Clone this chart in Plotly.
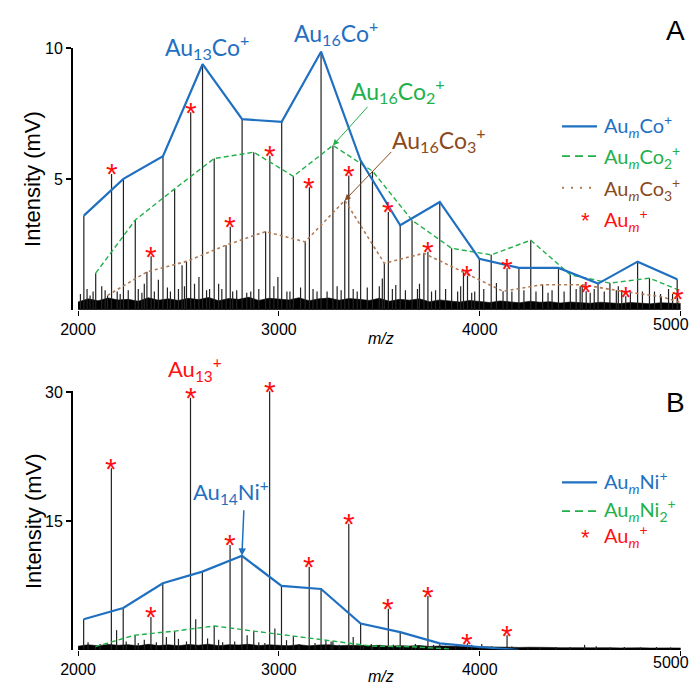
import plotly.graph_objects as go

# ---------------- Panel A (Au-Co) ----------------
co1_mz = [2029, 2226, 2423, 2620, 2817, 3014, 3210, 3407, 3604, 3801, 3998, 4195, 4392, 4589, 4786, 4983]
co1_int = [3.6, 5.0, 5.87, 9.38, 7.28, 7.18, 9.86, 5.7, 3.23, 4.12, 1.95, 1.6, 1.6, 1.0, 1.84, 1.17]
co2_mz = [2088, 2285, 2481, 2678, 2875, 3072, 3269, 3466, 3663, 3860, 4057, 4254, 4451, 4648, 4845, 5042]
co2_int = [1.4, 3.43, 4.62, 5.78, 6.02, 5.1, 6.28, 5.3, 3.42, 2.35, 2.1, 2.66, 1.34, 1.02, 1.21, 0.6]
co3_mz = [2147, 2343, 2540, 2737, 2934, 3131, 3328, 3525, 3722, 3919, 4116, 4313, 4510, 4707, 4904, 5101]
co3_int = [0.55, 1.45, 1.85, 2.47, 2.99, 2.6, 4.18, 1.78, 2.16, 1.45, 0.71, 0.96, 0.96, 0.71, 0.5, 0.05]
auA_mz = [2167, 2364, 2561, 2758, 2955, 3152, 3348, 3545, 3742, 3939, 4136, 4530, 4727, 4985]
auA_int = [5.19, 2.05, 7.55, 3.17, 5.88, 4.68, 5.13, 3.74, 2.22, 1.3, 1.59, 0.71, 0.52, 0.45]
otherA_mz = [2012, 2045, 2060, 2075, 2118, 2135, 2195, 2210, 2250, 2300, 2318, 2330, 2380, 2400,
             2445, 2460, 2500, 2518, 2530, 2580, 2602, 2640, 2655, 2700, 2716, 2770, 2790, 2840,
             2860, 2900, 2975, 2995, 3040, 3055, 3108, 3170, 3190, 3240, 3290, 3310, 3370, 3390,
             3440, 3500, 3515, 3565, 3582, 3630, 3690, 3700, 3760, 3780, 3830, 3890, 3905, 3960,
             3975, 4020, 4083, 4160, 4220, 4280, 4340, 4360, 4420, 4480, 4500, 4550, 4570, 4620,
             4680, 4690, 4750, 4810, 4870, 4900, 4940, 4960]
otherA_int = [0.6, 0.8, 0.55, 0.7, 0.9, 0.75, 0.7, 0.6, 0.75, 0.8, 0.65, 1.0, 0.7, 1.15,
              0.85, 0.7, 0.8, 1.7, 0.9, 1.0, 1.25, 0.75, 0.8, 1.0, 0.8, 0.7, 0.75, 0.65,
              0.7, 0.8, 0.9, 1.25, 0.7, 0.7, 0.85, 0.8, 0.7, 0.7, 0.9, 0.75, 0.8, 0.7,
              0.85, 0.9, 1.2, 0.8, 0.95, 0.75, 0.8, 1.0, 0.7, 0.75, 0.8, 0.7, 0.9, 0.65,
              0.7, 0.8, 1.02, 0.7, 0.75, 0.7, 0.65, 0.75, 0.7, 0.8, 0.9, 0.65, 0.8, 0.7,
              0.75, 0.9, 0.65, 0.7, 0.7, 0.6, 0.8, 0.6]
noiseA_mz = list(range(2000, 5001, 50))
noiseA = [0.30, 0.42, 0.35, 0.45, 0.38, 0.40, 0.33, 0.46, 0.37, 0.42,
          0.36, 0.44, 0.39, 0.47, 0.35, 0.43, 0.40, 0.48, 0.36, 0.44,
          0.41, 0.38, 0.46, 0.35, 0.42, 0.45, 0.37, 0.43, 0.40, 0.36,
          0.44, 0.33, 0.40, 0.37, 0.42, 0.31, 0.38, 0.35, 0.30, 0.36,
          0.32, 0.28, 0.34, 0.30, 0.27, 0.33, 0.29, 0.31, 0.26, 0.30,
          0.28, 0.25, 0.29, 0.27, 0.24, 0.28, 0.26, 0.23, 0.27, 0.25, 0.24]

# ---------------- Panel B (Au-Ni) ----------------
ni1_mz = [2028, 2225, 2422, 2619, 2816, 3013, 3210, 3407, 3604, 3801, 3998, 4195]
ni1_int = [3.58, 4.89, 7.77, 9.12, 10.96, 7.45, 7.1, 3.08, 2.08, 0.78, 0.35, 0.0]
ni2_mz = [2087, 2284, 2481, 2678, 2875, 3072, 3269, 3466, 3663, 3860]
ni2_int = [0.4, 1.73, 2.2, 2.8, 2.2, 1.6, 1.0, 0.45, 0.38, 0.1]
auB_mz = [2166, 2363, 2560, 2757, 2954, 3151, 3348, 3545, 3742, 3939, 4136]
auB_int = [21.15, 3.85, 29.35, 12.23, 30.1, 9.69, 14.69, 4.81, 6.27, 0.77, 1.73]
otherB_mz = [2050, 2110, 2192, 2240, 2300, 2330, 2390, 2440, 2500, 2540, 2586, 2645, 2700, 2720,
             2780, 2842, 2900, 2930, 2980, 3038, 3100, 3180, 3234, 3260, 3300, 3370, 3420, 3460,
             3500, 3570, 3620, 3680, 3700, 3770, 3830, 3880, 3960, 4010, 4060, 4160, 4240, 4300,
             4380, 4450, 4522, 4580, 4650, 4720, 4800, 4880, 4950]
otherB_int = [0.9, 0.7, 2.31, 1.0, 0.8, 1.2, 0.9, 1.5, 1.3, 1.0, 3.58, 1.35, 1.2, 0.9,
              1.0, 1.73, 0.9, 0.8, 2.5, 1.15, 0.7, 0.8, 1.15, 1.0, 0.6, 1.5, 0.6, 0.7,
              0.5, 0.6, 0.5, 0.7, 0.5, 0.6, 0.5, 0.5, 0.6, 0.7, 0.45, 0.4, 0.35, 0.3,
              0.35, 0.35, 0.6, 0.45, 0.3, 0.35, 0.3, 0.35, 0.3]
noiseB_mz = list(range(2000, 5001, 50))
noiseB = [0.45, 0.60, 0.50, 0.65, 0.55, 0.62, 0.48, 0.66, 0.52, 0.60,
          0.50, 0.64, 0.56, 0.68, 0.50, 0.62, 0.58, 0.66, 0.52, 0.60,
          0.55, 0.50, 0.62, 0.48, 0.58, 0.60, 0.50, 0.56, 0.52, 0.48,
          0.55, 0.45, 0.50, 0.46, 0.52, 0.42, 0.46, 0.44, 0.40, 0.42,
          0.38, 0.30, 0.34, 0.28, 0.30, 0.32, 0.27, 0.30, 0.26, 0.29,
          0.27, 0.25, 0.28, 0.26, 0.24, 0.27, 0.25, 0.23, 0.26, 0.24, 0.23]

x_ticks = [2000, 3000, 4000, 5000]
x_ticktext = ['2000', '3000', '4000', '5000']
yA_ticks = [5, 10]
yB_ticks = [15, 30]

BLUE = '#1f70c1'
GREEN = '#22b04b'
BROWN = '#8a4a1d'
BROWN_LINE = '#b07a55'
RED = '#ff1010'
STICK = '#222222'
LABEL_FONT = 'Lato, Carlito, Calibri, sans-serif'
AX_FONT = 'Liberation Sans, Arial, sans-serif'


def stick_xy(mz_lists, int_lists):
    xs, ys = [], []
    for mzs, ins in zip(mz_lists, int_lists):
        for m, v in zip(mzs, ins):
            xs += [m, m, None]
            ys += [0, v, None]
    return xs, ys


fig = go.Figure()

# ---- panel A traces ----
fig.add_trace(go.Scatter(x=noiseA_mz, y=noiseA, mode='lines', fill='tozeroy',
                         fillcolor='black', line=dict(color='black', width=0.6),
                         xaxis='x', yaxis='y', hoverinfo='skip'))
sx, sy = stick_xy([otherA_mz, co3_mz, co2_mz, co1_mz, auA_mz], [otherA_int, co3_int, co2_int, co1_int, auA_int])
fig.add_trace(go.Scatter(x=sx, y=sy, mode='lines', line=dict(color=STICK, width=1.2),
                         xaxis='x', yaxis='y', hoverinfo='skip'))
fig.add_trace(go.Scatter(x=co3_mz, y=co3_int, mode='lines', line=dict(color=BROWN_LINE, width=1.6, dash='dot'),
                         xaxis='x', yaxis='y'))
fig.add_trace(go.Scatter(x=co2_mz, y=co2_int, mode='lines', line=dict(color=GREEN, width=1.4, dash='5px,3px'),
                         xaxis='x', yaxis='y'))
fig.add_trace(go.Scatter(x=co1_mz, y=co1_int, mode='lines', line=dict(color=BLUE, width=2.2),
                         xaxis='x', yaxis='y'))

# ---- panel B traces ----
fig.add_trace(go.Scatter(x=noiseB_mz, y=noiseB, mode='lines', fill='tozeroy',
                         fillcolor='black', line=dict(color='black', width=0.6),
                         xaxis='x2', yaxis='y2', hoverinfo='skip'))
sx, sy = stick_xy([otherB_mz, ni2_mz, ni1_mz, auB_mz], [otherB_int, ni2_int, ni1_int, auB_int])
fig.add_trace(go.Scatter(x=sx, y=sy, mode='lines', line=dict(color=STICK, width=1.2),
                         xaxis='x2', yaxis='y2', hoverinfo='skip'))
fig.add_trace(go.Scatter(x=ni2_mz, y=ni2_int, mode='lines', line=dict(color=GREEN, width=1.4, dash='5px,3px'),
                         xaxis='x2', yaxis='y2'))
fig.add_trace(go.Scatter(x=ni1_mz, y=ni1_int, mode='lines', line=dict(color=BLUE, width=2.2),
                         xaxis='x2', yaxis='y2'))

annotations = []
# red asterisks over Au_m+ peaks
for mzs, ins, xr, yr in [(auA_mz, auA_int, 'x', 'y'), (auB_mz, auB_int, 'x2', 'y2')]:
    for m, v in zip(mzs, ins):
        annotations.append(dict(x=m, y=v, xref=xr, yref=yr, text='*', showarrow=False,
                                font=dict(family=AX_FONT, size=30, color=RED),
                                xanchor='center', yanchor='middle', yshift=0))

# plot-area geometry for paper placement: left 73px, width 608px; bottom 655px, height 607px
def px(xp):
    return (xp - 73) / 608.0

def py(yp):
    return (655 - yp) / 607.0


def label(text, x, y, color, size, family=LABEL_FONT, **kw):
    d = dict(x=px(x), y=py(y), xref='paper', yref='paper', text=text, showarrow=False,
             font=dict(family=family, size=size, color=color), xanchor='center', yanchor='middle')
    d.update(kw)
    annotations.append(d)


label('Au<sub>13</sub>Co<sup>+</sup>', 207, 46, BLUE, 23)
label('Au<sub>16</sub>Co<sup>+</sup>', 336, 32, BLUE, 23)
label('Au<sub>16</sub>Co<sub>2</sub><sup>+</sup>', 398, 91, GREEN, 23)
label('Au<sub>16</sub>Co<sub>3</sub><sup>+</sup>', 439, 140, BROWN, 23)
label('Au<sub>13</sub><sup>+</sup>', 195, 372, RED, 22)
label('Au<sub>14</sub>Ni<sup>+</sup>', 231, 496, BLUE, 22)
label('A', 675, 30, 'black', 28, family=AX_FONT)
label('B', 675, 405, 'black', 28, family=AX_FONT)
label('<i>m/z</i>', 381, 341, 'black', 16, family=AX_FONT)
label('<i>m/z</i>', 381, 682, 'black', 16, family=AX_FONT)
label('Intensity (mV)', 33, 180, 'black', 22, family=AX_FONT, textangle=-90)
label('Intensity (mV)', 33, 525, 'black', 22, family=AX_FONT, textangle=-90)
# last tick label sits just inside the right edge
label(x_ticktext[-1], 671, 327, 'black', 16, family=AX_FONT)
label(x_ticktext[-1], 671, 668, 'black', 16, family=AX_FONT)

# arrows pointing to specific peaks
annotations.append(dict(x=co2_mz[6], y=co2_int[6], xref='x', yref='y', ax=36, ay=-40, text='',
                        showarrow=True, arrowcolor=GREEN, arrowwidth=1, arrowhead=2, arrowsize=1.2))
annotations.append(dict(x=co3_mz[6], y=co3_int[6], xref='x', yref='y', ax=48, ay=-50, text='',
                        showarrow=True, arrowcolor=BROWN, arrowwidth=1, arrowhead=2, arrowsize=1.2))
annotations.append(dict(x=ni1_mz[4], y=ni1_int[4], xref='x2', yref='y2', ax=2, ay=-47, text='',
                        showarrow=True, arrowcolor=BLUE, arrowwidth=1.5, arrowhead=2, arrowsize=1))

# manual legends
shapes = []
def leg_line(y, color, dash, width):
    shapes.append(dict(type='line', xref='paper', yref='paper', x0=px(562), x1=px(597), y0=py(y), y1=py(y),
                       line=dict(color=color, dash=dash, width=width)))

def leg_text(text, y, color):
    annotations.append(dict(x=px(602), y=py(y), xref='paper', yref='paper', text=text, showarrow=False,
                            font=dict(family=LABEL_FONT, size=20, color=color), xanchor='left', yanchor='middle'))

def leg_star(y):
    annotations.append(dict(x=px(585), y=py(y), xref='paper', yref='paper', text='*', showarrow=False,
                            font=dict(family=AX_FONT, size=22, color=RED), xanchor='center', yanchor='middle'))

leg_line(127, BLUE, 'solid', 2.2)
leg_text('Au<sub><i>m</i></sub>Co<sup>+</sup>', 127, BLUE)
leg_line(157, GREEN, '8px,5px', 1.6)
leg_text('Au<sub><i>m</i></sub>Co<sub>2</sub><sup>+</sup>', 158, GREEN)
leg_line(189, BROWN_LINE, '2px,7px', 2)
leg_text('Au<sub><i>m</i></sub>Co<sub>3</sub><sup>+</sup>', 190, BROWN)
leg_star(222)
leg_text('Au<sub><i>m</i></sub><sup>+</sup>', 221, RED)

leg_line(486, BLUE, 'solid', 2.2)
leg_text('Au<sub><i>m</i></sub>Ni<sup>+</sup>', 486, BLUE)
leg_line(515, GREEN, '8px,5px', 1.6)
leg_text('Au<sub><i>m</i></sub>Ni<sub>2</sub><sup>+</sup>', 514, GREEN)
leg_star(542)
leg_text('Au<sub><i>m</i></sub><sup>+</sup>', 540, RED)

# x-axis baselines from 2000 to 5000
shapes.append(dict(type='line', xref='x', yref='y', x0=x_ticks[0], x1=x_ticks[-1], y0=0, y1=0,
                   line=dict(color='black', width=1.2)))
shapes.append(dict(type='line', xref='x2', yref='y2', x0=x_ticks[0], x1=x_ticks[-1], y0=0, y1=0,
                   line=dict(color='black', width=1.2)))

xax = dict(range=[1975, 5002], showgrid=False, zeroline=False, showline=False,
           ticks='outside', ticklen=5, tickwidth=1, tickcolor='black', tickvals=x_ticks,
           ticktext=x_ticktext[:-1] + [''],
           tickfont=dict(family=AX_FONT, size=16, color='black'))
yax = dict(showgrid=False, zeroline=False, showline=True, linecolor='black', linewidth=2,
           ticks='outside', ticklen=5, tickwidth=1.5, tickcolor='black',
           tickfont=dict(family=AX_FONT, size=16, color='black'))

fig.update_layout(
    width=693, height=690, margin=dict(l=73, r=12, t=48, b=35),
    paper_bgcolor='white', plot_bgcolor='white', showlegend=False,
    xaxis=dict(xax, domain=[0, 1], anchor='y'),
    yaxis=dict(yax, domain=[py(312), 1], range=[0, 10], tickvals=yA_ticks, anchor='x'),
    xaxis2=dict(xax, domain=[0, 1], anchor='y2'),
    yaxis2=dict(yax, domain=[0, py(393.7)], range=[0, 30.15], tickvals=yB_ticks, anchor='x2'),
    annotations=annotations, shapes=shapes,
)

fig.write_html('out.html', config={'displayModeBar': False},
               post_script="document.body.style.margin='0';document.body.style.padding='0';")
